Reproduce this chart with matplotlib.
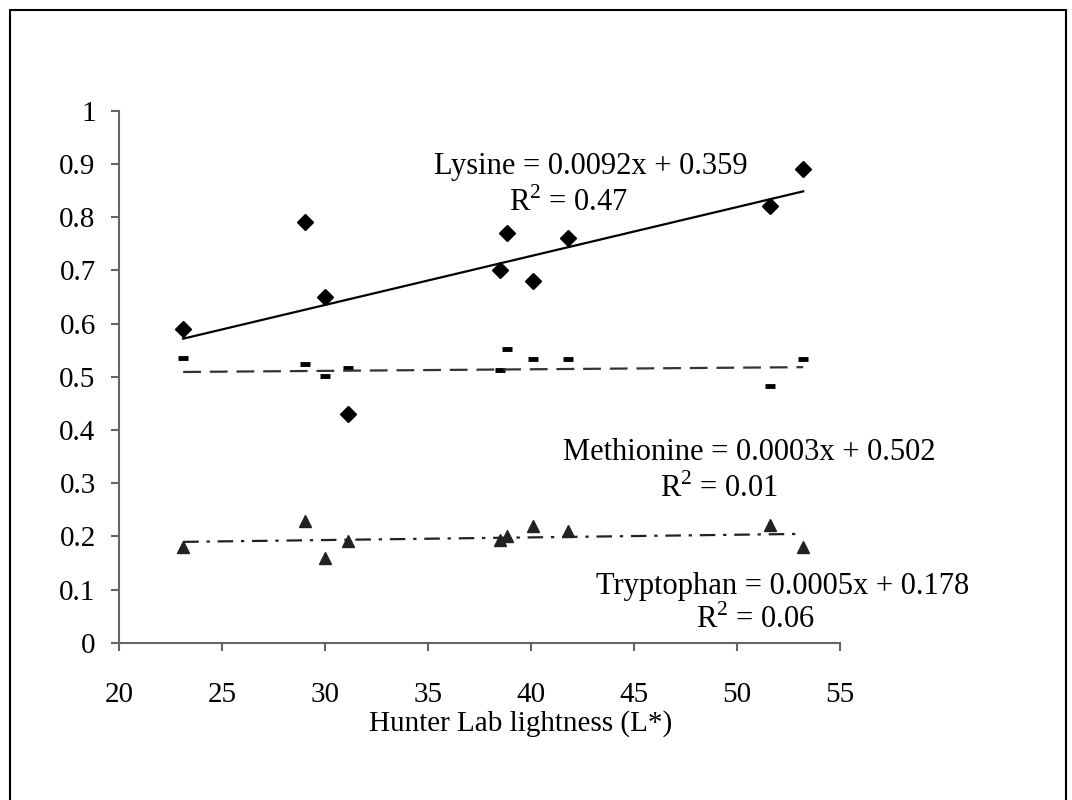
import matplotlib
matplotlib.use("Agg")
import matplotlib.pyplot as plt
import numpy as np
from matplotlib.patches import Rectangle

plt.rcParams['font.family'] = ['Liberation Serif', 'DejaVu Serif']
plt.rcParams['mathtext.fontset'] = 'custom'
plt.rcParams['mathtext.rm'] = 'Liberation Serif'

# lightness values (L*)
lightness = [23.1, 29.0, 30.0, 31.1, 38.5, 38.8, 40.1, 41.8, 51.6, 53.2]
lysine = [0.59, 0.79, 0.65, 0.43, 0.70, 0.77, 0.68, 0.76, 0.82, 0.89]
methionine = [0.535, 0.524, 0.501, 0.516, 0.513, 0.552, 0.533, 0.533, 0.483, 0.533]
tryptophan = [0.180, 0.229, 0.160, 0.192, 0.194, 0.200, 0.220, 0.210, 0.221, 0.179]

# trend line coefficients (slope, intercept)
lys_fit = (0.0092, 0.359)
met_fit = (0.0003, 0.502)
trp_fit = (0.0005, 0.178)

fig = plt.figure(figsize=(10.72, 8), dpi=100)
ax = fig.add_axes([0.1113, 0.1966, 0.6725, 0.665])

# outer frame
fig.patches.append(Rectangle((0.0093, -0.05), 0.985, 1.038, transform=fig.transFigure,
                             fill=False, edgecolor='black', linewidth=1.5))

xx = np.array([min(lightness), max(lightness)])

ax.plot(lightness, lysine, 'D', color='black', markersize=8.5)
ax.plot(xx, lys_fit[0]*xx + lys_fit[1], '-', color='black', linewidth=1.6)

ax.plot(lightness, methionine, '_', color='black', markersize=7, markeredgewidth=3.5)
ax.plot(xx, met_fit[0]*xx + met_fit[1], color='#333333', linewidth=1.6, dashes=(8, 4))

ax.plot(lightness, tryptophan, '^', color='#222222', markersize=9)
ax.plot(xx, trp_fit[0]*xx + trp_fit[1], color='#222222', linewidth=1.6,
        dashes=(7, 3.5, 1.5, 3.5))

ax.set_xlim(20, 55)
ax.set_ylim(0, 1)
ax.set_xticks([20, 25, 30, 35, 40, 45, 50, 55])
ax.set_yticks(np.arange(0, 1.01, 0.1))
ax.set_yticklabels(['0', '0.1', '0.2', '0.3', '0.4', '0.5', '0.6', '0.7', '0.8', '0.9', '1'])

for s in ['top', 'right']:
    ax.spines[s].set_visible(False)
for s in ['left', 'bottom']:
    ax.spines[s].set_color('#666666')
    ax.spines[s].set_linewidth(1.5)
ax.tick_params(axis='both', labelsize=21, colors='#666666', labelcolor='black',
               length=6, width=1.5)
ax.tick_params(axis='x', pad=22)
ax.tick_params(axis='y', pad=11)

ax.set_xlabel('Hunter Lab lightness (L*)', fontsize=21)
ax.xaxis.set_label_coords(0.556, -0.126)

fs = 22
ax.text(42.9, 0.896, 'Lysine = 0.0092x + 0.359', fontsize=fs, ha='center', va='center')
ax.text(41.8, 0.827, r'R$^{\rm 2}$ = 0.47', fontsize=fs, ha='center', va='center')
ax.text(50.6, 0.357, 'Methionine = 0.0003x + 0.502', fontsize=fs, ha='center', va='center')
ax.text(49.1, 0.290, r'R$^{\rm 2}$ = 0.01', fontsize=fs, ha='center', va='center')
ax.text(52.2, 0.105, 'Tryptophan = 0.0005x + 0.178', fontsize=fs, ha='center', va='center')
ax.text(50.9, 0.043, r'R$^{\rm 2}$ = 0.06', fontsize=fs, ha='center', va='center')

plt.savefig('out.png', dpi=100)
